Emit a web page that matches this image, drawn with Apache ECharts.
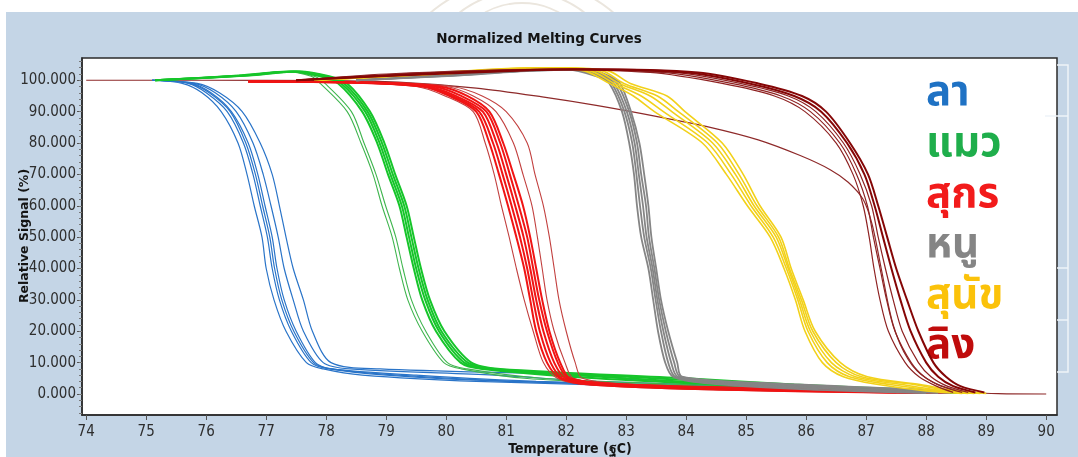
<!DOCTYPE html>
<html>
<head>
<meta charset="utf-8">
<script src="https://cdn.jsdelivr.net/npm/echarts@6/dist/echarts.min.js"></script>
<style>
  html, body { margin: 0; padding: 0; background: #ffffff; }
  .ring { position: absolute; border-radius: 50%; border: 2px solid #ebe6de; }
  #panel { position: absolute; left: 6px; top: 12px; width: 1072px; height: 445px; background: #c4d5e6; }
  #chart { position: absolute; left: 0; top: 0; width: 1078px; height: 457px; }
</style>
</head>
<body>
<div class="ring" style="left:420px; top:-10px; width:200px; height:200px;"></div>
<div class="ring" style="left:445px; top:2px; width:150px; height:150px;"></div>
<div class="ring" style="left:380px; top:-22px; width:280px; height:280px;"></div>
<div id="panel"></div>
<div id="chart"></div>
<script>
// Axis ticks
const tempTicks = [74, 75, 76, 77, 78, 79, 80, 81, 82, 83, 84, 85, 86, 87, 88, 89, 90];
const signalTicks = [0, 10, 20, 30, 40, 50, 60, 70, 80, 90, 100];

// Species names shown beside the curves
const speciesLabels = ['ลา', 'แมว', 'สุกร', 'หนู', 'สุนัข', 'ลิง'];

// Donkey: signal levels and the temperature each replicate reaches them
const donkeyLevels = [100, 99, 96, 90, 80, 70, 60, 50, 40, 30, 20, 10, 8, 6, 4, 2, 0.5];
const donkeyTemps = [
  [75.1, 75.6, 75.93, 76.25, 76.53, 76.68, 76.8, 76.93, 77.0, 77.13, 77.33, 77.67, 77.95, 78.6, 80.5, 84.5, 88.0],
  [75.1, 75.7, 76.0, 76.35, 76.62, 76.78, 76.9, 77.02, 77.1, 77.22, 77.42, 77.75, 78.05, 79.0, 81.0, 85.0, 88.2],
  [75.1, 75.72, 76.05, 76.4, 76.66, 76.82, 76.94, 77.06, 77.14, 77.26, 77.46, 77.79, 78.08, 79.2, 81.2, 85.2, 88.2],
  [75.1, 75.75, 76.08, 76.42, 76.7, 76.86, 76.98, 77.1, 77.18, 77.3, 77.5, 77.82, 78.1, 79.5, 81.5, 85.5, 88.3],
  [75.1, 75.8, 76.15, 76.5, 76.78, 76.95, 77.08, 77.2, 77.3, 77.45, 77.62, 77.95, 78.4, 80.8, 82.5, 86.0, 88.4],
  [75.1, 75.85, 76.22, 76.6, 76.9, 77.1, 77.22, 77.33, 77.45, 77.62, 77.77, 78.08, 78.9, 82.3, 83.5, 86.2, 88.5]
];

// Cat
const catLevels = [100, 101.5, 102.8, 101.3, 99, 90, 80, 70, 60, 50, 40, 30, 20, 10, 8, 5, 3, 1.5, 0.3];
const catThinTemps = [
  [75.15, 76.6, 77.3, 77.75, 77.9, 78.35, 78.58, 78.78, 78.93, 79.1, 79.22, 79.36, 79.6, 79.96, 80.25, 81.3, 83.5, 86.0, 88.3],
  [75.15, 76.6, 77.35, 77.8, 77.98, 78.42, 78.63, 78.83, 78.99, 79.16, 79.28, 79.42, 79.66, 80.02, 80.35, 81.6, 84.0, 86.3, 88.4]
];
const catTemps = [
  [75.15, 76.55, 77.4, 77.9, 78.2, 78.6, 78.85, 79.03, 79.22, 79.34, 79.46, 79.6, 79.83, 80.24, 80.6, 82.5, 84.5, 86.5, 88.5],
  [75.15, 76.6, 77.45, 77.95, 78.25, 78.65, 78.89, 79.07, 79.26, 79.38, 79.5, 79.65, 79.88, 80.3, 80.7, 83.0, 84.8, 86.8, 88.6],
  [75.15, 76.65, 77.5, 78.0, 78.3, 78.69, 78.93, 79.11, 79.3, 79.42, 79.54, 79.69, 79.92, 80.36, 80.8, 83.5, 85.2, 87.2, 88.7],
  [75.15, 76.7, 77.55, 78.05, 78.35, 78.73, 78.97, 79.15, 79.34, 79.46, 79.58, 79.73, 79.97, 80.42, 80.9, 84.0, 85.8, 87.6, 88.8]
];

// Pig
const pigLevels = [99.6, 99.2, 98, 95, 90, 80, 70, 60, 50, 40, 30, 20, 10, 5, 3, 1.5, 0.3];
const pigThinTemps = [
  [76.7, 78.4, 79.5, 79.98, 80.45, 80.65, 80.8, 80.92, 81.05, 81.17, 81.3, 81.45, 81.62, 81.85, 82.3, 84.0, 87.5],
  [76.7, 79.0, 80.0, 80.45, 80.83, 81.12, 81.28, 81.43, 81.52, 81.6, 81.68, 81.8, 81.98, 82.12, 82.9, 85.5, 88.0],
  [76.7, 79.1, 80.1, 80.6, 81.0, 81.35, 81.48, 81.62, 81.72, 81.8, 81.88, 82.0, 82.15, 82.27, 83.2, 86.0, 88.2]
];
const pigTemps = [
  [76.7, 78.5, 79.6, 80.05, 80.5, 80.72, 80.88, 81.03, 81.17, 81.3, 81.4, 81.5, 81.68, 81.9, 82.4, 84.3, 87.8],
  [76.7, 78.6, 79.65, 80.1, 80.55, 80.78, 80.94, 81.09, 81.23, 81.35, 81.45, 81.56, 81.74, 81.94, 82.5, 84.6, 88.0],
  [76.7, 78.7, 79.7, 80.16, 80.61, 80.84, 81.0, 81.15, 81.29, 81.4, 81.5, 81.62, 81.8, 81.99, 82.7, 85.0, 88.2],
  [76.7, 78.8, 79.8, 80.25, 80.67, 80.9, 81.06, 81.21, 81.35, 81.45, 81.55, 81.68, 81.86, 82.04, 82.9, 85.5, 88.3],
  [76.7, 78.9, 79.9, 80.35, 80.72, 80.95, 81.12, 81.28, 81.4, 81.5, 81.6, 81.72, 81.9, 82.07, 83.0, 86.0, 88.4]
];

// Rat
const ratLevels = [100, 101.5, 103, 103.5, 101, 99, 90, 80, 70, 60, 50, 40, 30, 20, 10, 5.5, 3.5, 1.5, 0.3];
const ratTemps = [
  [78.5, 79.8, 81.0, 82.0, 82.55, 82.72, 82.93, 83.05, 83.13, 83.18, 83.25, 83.37, 83.45, 83.53, 83.65, 83.78, 84.3, 86.0, 88.0],
  [78.5, 79.9, 81.1, 82.1, 82.6, 82.76, 82.97, 83.1, 83.17, 83.23, 83.3, 83.41, 83.49, 83.58, 83.7, 83.82, 84.5, 86.5, 88.2],
  [78.5, 80.0, 81.2, 82.2, 82.65, 82.8, 83.01, 83.14, 83.21, 83.28, 83.34, 83.44, 83.52, 83.62, 83.75, 83.86, 84.7, 87.0, 88.4],
  [78.5, 80.1, 81.3, 82.3, 82.7, 82.85, 83.05, 83.18, 83.25, 83.33, 83.38, 83.47, 83.55, 83.66, 83.8, 83.9, 85.0, 87.5, 88.6],
  [78.5, 80.2, 81.4, 82.4, 82.75, 82.9, 83.08, 83.22, 83.3, 83.37, 83.42, 83.5, 83.58, 83.7, 83.85, 83.93, 85.3, 87.8, 88.8]
];

// Dog
const dogLevels = [100, 102, 104, 103, 99, 95, 90, 80, 70, 60, 50, 40, 30, 20, 10, 5.5, 3, 1, 0.2];
const dogTemps = [
  [77.8, 79.5, 81.5, 82.3, 82.72, 83.12, 83.47, 84.27, 84.67, 85.02, 85.4, 85.63, 85.82, 85.98, 86.27, 86.62, 87.2, 88.0, 88.6],
  [77.8, 79.6, 81.6, 82.4, 82.8, 83.25, 83.62, 84.36, 84.75, 85.08, 85.45, 85.67, 85.86, 86.03, 86.35, 86.72, 87.4, 88.2, 88.7],
  [77.8, 79.7, 81.7, 82.5, 82.88, 83.4, 83.76, 84.44, 84.82, 85.13, 85.5, 85.7, 85.89, 86.07, 86.42, 86.82, 87.6, 88.3, 88.8],
  [77.8, 79.8, 81.8, 82.6, 82.96, 83.52, 83.87, 84.52, 84.88, 85.18, 85.54, 85.72, 85.92, 86.11, 86.5, 86.92, 87.8, 88.4, 88.9],
  [77.8, 79.9, 81.9, 82.7, 83.07, 83.68, 83.98, 84.6, 84.95, 85.23, 85.58, 85.75, 85.95, 86.15, 86.57, 87.02, 87.9, 88.5, 89.0]
];

// Monkey
const monkeyLevels = [100, 102, 103.5, 102.5, 99, 95, 90, 80, 70, 60, 50, 40, 30, 20, 10, 5.5, 2.5, 0.5];
const monkeyThinTemps = [
  [77.5, 79.0, 81.5, 83.4, 84.6, 85.47, 85.98, 86.5, 86.78, 86.95, 87.05, 87.13, 87.23, 87.37, 87.65, 87.88, 88.17, 88.45],
  [77.5, 79.2, 81.7, 83.6, 84.75, 85.58, 86.07, 86.56, 86.84, 87.02, 87.12, 87.23, 87.34, 87.48, 87.75, 87.97, 88.25, 88.6],
  [77.5, 79.4, 81.9, 83.8, 84.9, 85.7, 86.16, 86.62, 86.9, 87.09, 87.2, 87.32, 87.45, 87.6, 87.87, 88.08, 88.35, 88.7]
];
const monkeyTemps = [
  [77.5, 79.6, 82.1, 84.0, 85.05, 85.8, 86.25, 86.68, 86.97, 87.14, 87.28, 87.42, 87.57, 87.74, 88.0, 88.2, 88.45, 88.82],
  [77.5, 79.8, 82.3, 84.2, 85.2, 85.93, 86.33, 86.73, 87.03, 87.2, 87.35, 87.5, 87.68, 87.87, 88.12, 88.33, 88.57, 88.97]
];
// One monkey sample that drifts down early and spans the whole run
const monkeyDriftTemps = [74.0, 76.0, 78.0, 79.2, 80.5, 81.6, 82.5, 83.5, 84.4, 85.2, 85.9, 86.4, 86.7, 86.95, 87.1, 87.25, 87.45, 87.7, 88.0, 88.5, 89.2, 90.0];
const monkeyDriftSignal = [100, 100, 99.9, 99.4, 97.5, 94.7, 92.0, 88.5, 85.0, 81.0, 76.0, 71.5, 67.5, 62.0, 54.0, 40.0, 22.0, 11.0, 5.0, 1.2, 0.1, 0.0];

const narrowFont = "'Liberation Sans Narrow', 'DejaVu Sans Condensed', 'Liberation Sans', sans-serif";
const thaiFont = "'Noto Sans Thai', 'Noto Sans Thai UI', 'Leelawadee UI', Tahoma, 'Loma', 'Garuda', 'Noto Sans', sans-serif";

function curveSeries(levels, tempsList, color, width, z) {
  return tempsList.map(temps => ({
    type: 'line',
    data: temps.map((t, i) => [t, levels[i]]),
    symbol: 'none',
    smooth: 0.3,
    silent: true,
    z: z,
    lineStyle: { color: color, width: width }
  }));
}

const series = [].concat(
  [{
    type: 'line',
    data: monkeyDriftTemps.map((t, i) => [t, monkeyDriftSignal[i]]),
    symbol: 'none', smooth: 0.3, silent: true, z: 1,
    lineStyle: { color: '#8e2a2a', width: 1.2 }
  }],
  curveSeries(donkeyLevels, donkeyTemps, '#2a74c8', 1.2, 2),
  curveSeries(catLevels, catThinTemps, '#3fb54e', 1.1, 3),
  curveSeries(catLevels, catTemps, '#16c52a', 2, 3),
  curveSeries(pigLevels, pigThinTemps, '#c2403f', 1.1, 4),
  curveSeries(pigLevels, pigTemps, '#f01414', 2, 4),
  curveSeries(ratLevels, ratTemps, '#858585', 1.8, 5),
  curveSeries(dogLevels, dogTemps, '#f2d11a', 1.6, 6),
  curveSeries(monkeyLevels, monkeyThinTemps, '#8e2222', 1.2, 7),
  curveSeries(monkeyLevels, monkeyTemps, '#850606', 2, 7)
);

const minorTicks = [];
for (let v = -6; v <= 106; v += 2) minorTicks.push(v);

const legendColors = ['#1f72c4', '#1fae4b', '#f21b1b', '#858585', '#fbc20a', '#c00c0c'];
const legendGraphics = speciesLabels.map((label, i) => ({
  type: 'text',
  x: 926,
  y: 97 + i * 50.6,
  silent: true,
  style: {
    text: label,
    fill: legendColors[i],
    font: "bold 42px " + thaiFont,
    textAlign: 'left',
    textVerticalAlign: 'middle'
  }
}));

const chart = echarts.init(document.getElementById('chart'), null, { renderer: 'canvas' });
chart.setOption({
  backgroundColor: 'transparent',
  animation: false,
  title: {
    text: 'Normalized Melting Curves',
    left: 'center',
    top: 27,
    textStyle: { fontFamily: "'DejaVu Sans', sans-serif", fontWeight: 'bold', fontSize: 13.5, color: '#141414' }
  },
  grid: {
    left: 82, right: 21, top: 58, bottom: 42,
    show: true, backgroundColor: '#ffffff', borderColor: '#2b2b2b', borderWidth: 1.5
  },
  xAxis: {
    type: 'value', min: 73.93, max: 90.18,
    axisLine: { show: true, onZero: false, lineStyle: { color: '#2b2b2b', width: 1.5 } },
    axisTick: { show: true, customValues: tempTicks, length: 5, lineStyle: { color: '#555' } },
    axisLabel: { customValues: tempTicks, color: '#2e2e2e', fontFamily: narrowFont, fontSize: 15, margin: 10 },
    splitLine: { show: false }
  },
  yAxis: [{
    type: 'value', min: -6.7, max: 107.1, position: 'left',
    axisLine: { show: true, onZero: false, lineStyle: { color: '#2b2b2b', width: 1.5 } },
    axisTick: { show: true, customValues: signalTicks, length: 5, lineStyle: { color: '#555' } },
    axisLabel: {
      customValues: signalTicks, color: '#2e2e2e', fontFamily: narrowFont, fontSize: 15, margin: 6,
      formatter: v => v.toFixed(3)
    },
    splitLine: { show: false }
  }, {
    type: 'value', min: -6.7, max: 107.1, position: 'left',
    axisLine: { show: false },
    axisTick: { show: true, customValues: minorTicks, length: 3, lineStyle: { color: '#777' } },
    axisLabel: { show: false },
    splitLine: { show: false }
  }],
  graphic: [
    {
      type: 'text', x: 25, y: 236, rotation: Math.PI / 2, silent: true,
      style: { text: 'Relative Signal (%)', fill: '#141414', font: "bold 12.5px 'DejaVu Sans', sans-serif", textAlign: 'center', textVerticalAlign: 'middle' }
    },
    {
      type: 'text', x: 570, y: 449, silent: true,
      style: { text: 'Temperature (ฐC)', fill: '#141414', font: "bold 14px " + narrowFont, textAlign: 'center', textVerticalAlign: 'middle' }
    },
    {
      type: 'polyline', silent: true,
      shape: { points: [[1057, 65], [1068, 65], [1068, 372], [1057, 372]] },
      style: { stroke: '#eef3f8', lineWidth: 1.5, fill: null }
    },
    { type: 'line', silent: true, shape: { x1: 1045, y1: 116, x2: 1068, y2: 116 }, style: { stroke: '#eef3f8', lineWidth: 1.5 } },
    { type: 'line', silent: true, shape: { x1: 1057, y1: 268, x2: 1068, y2: 268 }, style: { stroke: '#eef3f8', lineWidth: 1.5 } },
    { type: 'line', silent: true, shape: { x1: 1057, y1: 320, x2: 1068, y2: 320 }, style: { stroke: '#eef3f8', lineWidth: 1.5 } }
  ].concat(legendGraphics),
  series: series
});
</script>
</body>
</html>
